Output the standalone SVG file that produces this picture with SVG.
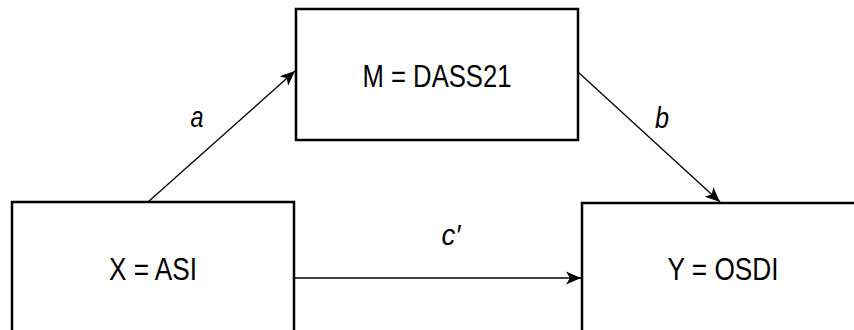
<svg xmlns="http://www.w3.org/2000/svg" width="854" height="330" viewBox="0 0 854 330">
<style>
.box{fill:#fff;stroke:#000;stroke-width:2.5}
.lbl{font-family:"Liberation Sans Narrow","Arial Narrow","Liberation Sans",sans-serif;font-size:31px;fill:#000;text-anchor:middle}
.it{font-style:italic;font-size:30px}
.con{stroke:#000;stroke-width:1.3;fill:none;marker-end:url(#ah)}
</style>
<defs>
<marker id="ah" markerUnits="userSpaceOnUse" markerWidth="16" markerHeight="14" refX="15" refY="7" orient="auto">
<path d="M0,0.5 L15,7 L0,13.5 L4,7 Z" fill="#000"/>
</marker>
</defs>
<rect width="854" height="330" fill="#fff"/>
<g id="connectors">
<line class="con" x1="148" y1="202" x2="295" y2="71"/>
<line class="con" x1="578" y1="72" x2="720" y2="202"/>
<line class="con" x1="294" y1="278" x2="581" y2="278"/>
<text class="lbl it" x="197" y="127" textLength="13" lengthAdjust="spacingAndGlyphs">a</text>
<text class="lbl it" x="662" y="128" textLength="14" lengthAdjust="spacingAndGlyphs">b</text>
<text class="lbl it" x="451" y="245" textLength="19" lengthAdjust="spacingAndGlyphs">c′</text>
</g>
<g id="nodeX">
<rect class="box" x="12" y="202" width="282" height="140"/>
<text class="lbl" x="153" y="280" textLength="88" lengthAdjust="spacingAndGlyphs">X = ASI</text>
</g>
<g id="nodeM">
<rect class="box" x="296" y="9" width="282" height="131"/>
<text class="lbl" x="437" y="87" textLength="149" lengthAdjust="spacingAndGlyphs">M = DASS21</text>
</g>
<g id="nodeY">
<rect class="box" x="582" y="203" width="282" height="140"/>
<text class="lbl" x="723" y="280" textLength="111" lengthAdjust="spacingAndGlyphs">Y = OSDI</text>
</g>
</svg>
